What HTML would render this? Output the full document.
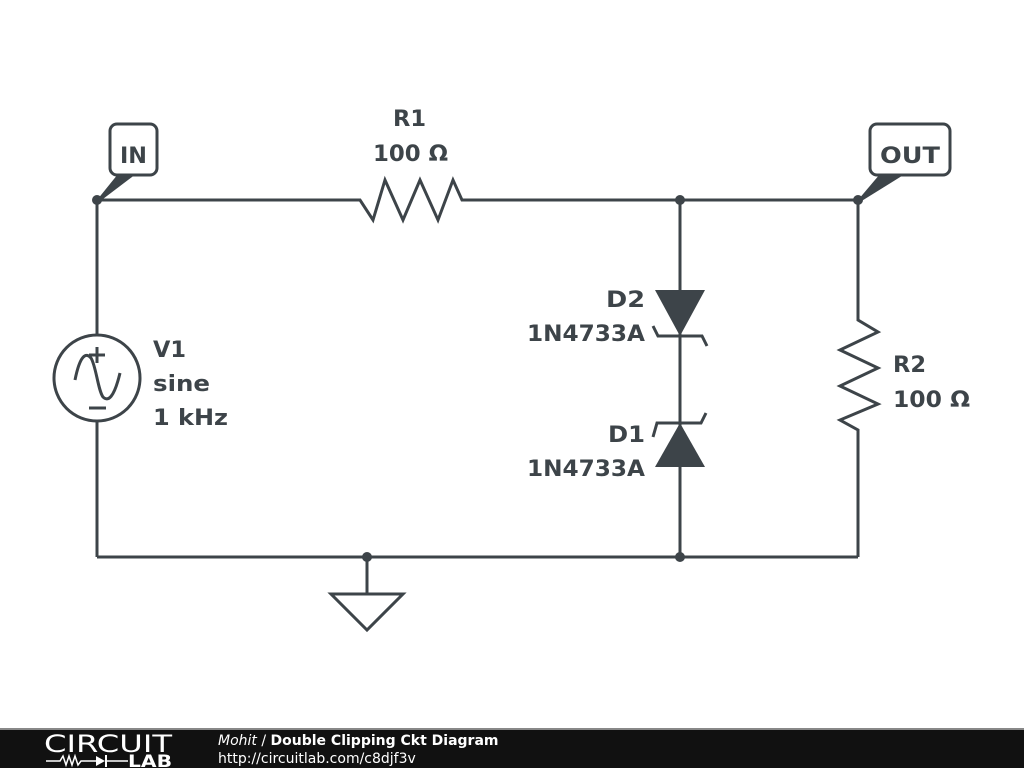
<!DOCTYPE html>
<html><head><meta charset="utf-8"><style>
html,body{margin:0;padding:0;background:#fff;width:1024px;height:768px;overflow:hidden}
svg{display:block}
text{font-family:"DejaVu Sans","Liberation Sans",sans-serif}
.l{font-family:"Liberation Sans",Arial,sans-serif;font-weight:bold;font-size:22px;fill:#3d4449}
</style></head><body>
<svg width="1024" height="768" viewBox="0 0 1024 768">
<g stroke="#3d4449" stroke-width="3" fill="none" stroke-linejoin="miter">
<polyline points="97,200 360,200 373,220 385,180 403,220 420,180 438,220 453,180 462,200 858,200"/>
<line x1="97" y1="200" x2="97" y2="335"/>
<line x1="97" y1="421" x2="97" y2="557"/>
<line x1="97" y1="557" x2="858" y2="557"/>
<circle cx="97" cy="378" r="43"/>
<path d="M75,380 C80,355 86,352 91,358 C96,366 98,390 103,397 C108,402 114,398 120,373"/>
<line x1="89" y1="355" x2="105" y2="355"/><line x1="97" y1="347" x2="97" y2="363"/>
<line x1="89" y1="408" x2="106" y2="408"/>
<polyline points="858,200 858,320 878,332 840,350 878,368 840,386 878,404 840,420 858,430 858,557"/>
<line x1="680" y1="200" x2="680" y2="557"/>
<polyline points="653,326 658,336 702,336 707,346"/>
<polyline points="653,437 657,423 701,423 706,413"/>
<line x1="367" y1="557" x2="367" y2="594"/>
<polygon points="331,594 403,594 367,630"/>
<rect x="110" y="124" width="47" height="51" rx="7" fill="#fff"/>
<rect x="870" y="124" width="80" height="51" rx="7" fill="#fff"/>
</g>
<g fill="#3d4449">
<polygon points="655,290 705,290 680,336"/>
<polygon points="680,423 705,467 655,467"/>
<circle cx="97" cy="200" r="5"/><circle cx="680" cy="200" r="5"/><circle cx="858" cy="200" r="5"/>
<circle cx="367" cy="557" r="5"/><circle cx="680" cy="557" r="5"/>
<polygon points="97,200 118,174 136,174 99,202"/>
<polygon points="858,200 880,174 905,174 860,202"/>
</g>
<g class="l">
<text x="120" y="163" textLength="27" lengthAdjust="spacingAndGlyphs">IN</text>
<text x="880" y="163" textLength="60" lengthAdjust="spacingAndGlyphs">OUT</text>
<text x="393" y="126" textLength="33" lengthAdjust="spacingAndGlyphs">R1</text>
<text x="373" y="161" textLength="75" lengthAdjust="spacingAndGlyphs">100 Ω</text>
<text x="153" y="357" textLength="33" lengthAdjust="spacingAndGlyphs">V1</text>
<text x="153" y="391" textLength="57" lengthAdjust="spacingAndGlyphs">sine</text>
<text x="153" y="425" textLength="75" lengthAdjust="spacingAndGlyphs">1 kHz</text>
<text x="606" y="307" textLength="39" lengthAdjust="spacingAndGlyphs">D2</text>
<text x="527" y="341" textLength="118" lengthAdjust="spacingAndGlyphs">1N4733A</text>
<text x="608" y="442" textLength="37" lengthAdjust="spacingAndGlyphs">D1</text>
<text x="527" y="476" textLength="118" lengthAdjust="spacingAndGlyphs">1N4733A</text>
<text x="893" y="372" textLength="33" lengthAdjust="spacingAndGlyphs">R2</text>
<text x="893" y="407" textLength="77" lengthAdjust="spacingAndGlyphs">100 Ω</text>
</g>
<rect x="0" y="728" width="1024" height="40" fill="#111"/>
<rect x="0" y="728" width="1024" height="2" fill="#888"/>
<text x="44" y="752" fill="#fff" font-size="24" font-family="'Liberation Sans',sans-serif" textLength="128" lengthAdjust="spacingAndGlyphs">CIRCUIT</text>
<polyline points="46,761 60,761 63,756 66,765 69,756 72,765 75,756 78,765 81,761 96,761" stroke="#fff" stroke-width="1.5" fill="none"/>
<polygon points="96,756 96,766 105,761" fill="#fff"/>
<line x1="106" y1="755" x2="106" y2="767" stroke="#fff" stroke-width="2"/>
<line x1="106" y1="761" x2="128" y2="761" stroke="#fff" stroke-width="1.5"/>
<text x="128" y="767" fill="#fff" font-size="17" font-weight="bold" font-family="'Liberation Sans',sans-serif" textLength="44" lengthAdjust="spacingAndGlyphs">LAB</text>
<text x="218" y="745" fill="#fff" font-size="14"><tspan font-style="italic">Mohit</tspan> / <tspan font-weight="bold">Double Clipping Ckt Diagram</tspan></text>
<text x="218" y="763" fill="#fff" font-size="14">http://circuitlab.com/c8djf3v</text>
</svg>
</body></html>
